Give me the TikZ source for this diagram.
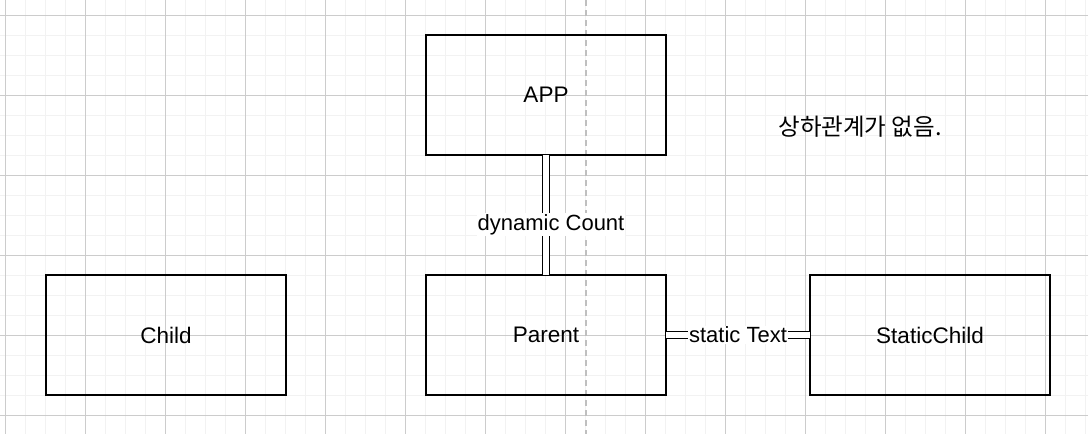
\documentclass[tikz,border=0pt]{standalone}
\usepackage{fontspec}
\setmainfont{Liberation Sans}
\newfontfamily\krfont{Noto Sans CJK KR}
\usetikzlibrary{positioning}

\begin{document}
\begin{tikzpicture}[
         x = 1pt, y = -1pt,
     node distance = 120pt,
MyStyle/.style={draw, line width=1.7pt, minimum width=240pt, minimum height=120pt,
                outer sep=0pt, font=\fontsize{22.5}{26}\selectfont},
MyLink/.style={double, double distance=5.5pt, line width=1.3pt},
MyLabel/.style={fill=white, inner sep=1pt, font=\fontsize{22}{26}\selectfont},
MinorLine/.style={draw=black!5, line width=1pt},
MajorLine/.style={draw=black!20, line width=1pt},
  ]
\useasboundingbox (0,0) rectangle (1088,434);
% grid
\foreach \x in {5,25,...,1085} \draw[MinorLine] (\x,0) -- (\x,434);
\foreach \y in {15,35,...,434} \draw[MinorLine] (0,\y) -- (1088,\y);
\foreach \x in {5,85,...,1085} \draw[MajorLine] (\x,0) -- (\x,434);
\foreach \y in {15,95,...,434} \draw[MajorLine] (0,\y) -- (1088,\y);
\draw[black!25, line width=1.5pt, dash pattern=on 6pt off 4pt] (586,0) -- (586,434);
% boxes
\node [MyStyle] (3) at (546,335) {Parent};
\node [MyStyle, above=of 3] (1) {APP};
\node [MyStyle, left=140pt of 3] (2) {Child};
\node [MyStyle, right=144pt of 3] (4) {StaticChild};
\node [font=\krfont\fontsize{23.5}{27}\selectfont] (5) at (860,127) {상하관계가 없음.};
% links
\draw[MyLink] (1.south) to node[MyLabel, pos=0.58, xshift=5pt] {dynamic Count} (3.north);
\draw[MyLink] (3.east) to node[MyLabel] {static Text} (4.west);
\end{tikzpicture}
\end{document}
